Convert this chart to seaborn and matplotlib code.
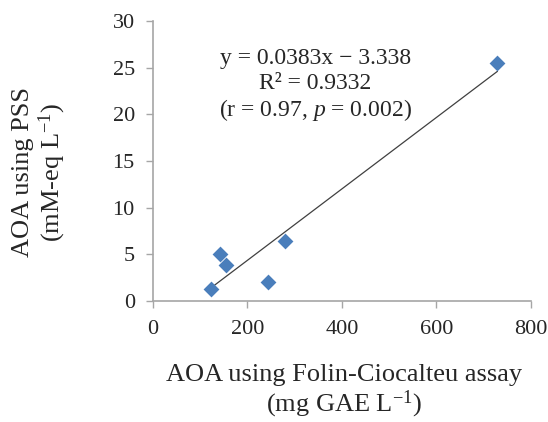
import pandas as pd
import seaborn as sns
import matplotlib.pyplot as plt

# Data
folin = [122, 142, 155, 243, 279, 729]      # mg GAE L-1
pss = [1.3, 5.0, 3.9, 2.0, 6.4, 25.5]       # mM-eq L-1
x_ticks = [0, 200, 400, 600, 800]
y_ticks = [0, 5, 10, 15, 20, 25, 30]
fit_text = ['y = 0.0383x \u2212 3.338', 'R\u00b2 = 0.9332', '(r = 0.97, $p$ = 0.002)']

data = pd.DataFrame({'Folin': folin, 'PSS': pss})

sns.set_style('white')
plt.rcParams['font.family'] = ['Liberation Serif', 'DejaVu Serif']
plt.rcParams['mathtext.fontset'] = 'custom'
plt.rcParams['mathtext.rm'] = 'Liberation Serif'
plt.rcParams['mathtext.it'] = 'Liberation Serif:italic'

fig = plt.figure(figsize=(5.48, 4.22), dpi=100)
ax = fig.add_axes([0.279, 0.287, 0.690, 0.663])

# trend line (linear fit)
sns.regplot(data=data, x='Folin', y='PSS', scatter=False, ci=None, ax=ax,
            line_kws={'color': '#404040', 'lw': 0.9})
sns.scatterplot(data=data, x='Folin', y='PSS', marker='D', s=65,
                color='#4a7ebb', edgecolor='#4a7ebb', linewidth=0, ax=ax, zorder=3)

ax.set_xlim(0, 800)
ax.set_ylim(0, 30)
ax.set_xticks(x_ticks)
ax.set_yticks(y_ticks)
ax.tick_params(axis='both', labelsize=16, length=5, width=1, color='#a6a6a6',
               direction='out', bottom=True, left=True)
ax.tick_params(axis='y', pad=8)
ax.tick_params(axis='x', pad=9)
for side in ['top', 'right']:
    ax.spines[side].set_visible(False)
for side in ['left', 'bottom']:
    ax.spines[side].set_color('#a6a6a6')
    ax.spines[side].set_linewidth(1.2)

ax.set_xlabel('')
ax.set_ylabel('')

for yy, line in zip([26.0, 23.3, 20.5], fit_text):
    ax.text(344, yy, line, ha='center', va='center', fontsize=17)

fig.text(0.628, 0.071, 'AOA using Folin-Ciocalteu assay\n(mg GAE L$^{\u22121}$)',
         ha='center', va='center', fontsize=19, linespacing=1.1)
fig.text(0.073, 0.592, 'AOA using PSS\n(mM-eq L$^{\u22121}$)', ha='center', va='center',
         rotation=90, fontsize=19, linespacing=1.1)

fig.savefig('out.png', dpi=100)
